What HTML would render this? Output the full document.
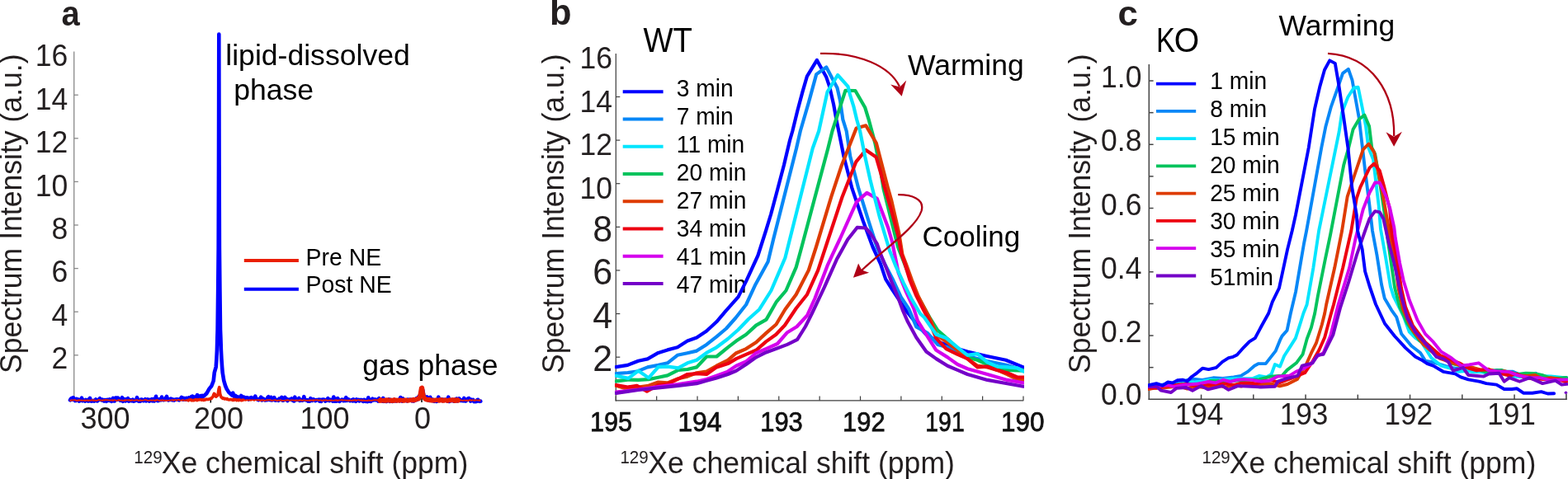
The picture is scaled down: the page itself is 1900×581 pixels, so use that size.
<!DOCTYPE html>
<html><head><meta charset="utf-8"><title>Figure</title>
<style>html,body{margin:0;padding:0;background:#fff;} svg{display:block;} text{font-family:'Liberation Sans', Arial, Helvetica, sans-serif;}</style>
</head><body>
<svg width="1900" height="581" viewBox="0 0 1900 581">
<defs><clipPath id="clipb"><rect x="745" y="0" width="496" height="487"/></clipPath><clipPath id="clipc"><rect x="1391" y="0" width="509" height="486"/></clipPath></defs>
<rect width="1900" height="581" fill="#fff"/>
<text x="74.5" y="30.6" font-size="41" text-anchor="start" fill="#231f20" font-weight="bold" textLength="22.2" lengthAdjust="spacingAndGlyphs" transform="matrix(1 0 0 1.04 0 -1.224)" >a</text>
<line x1="89.7" y1="62.4" x2="89.7" y2="484" stroke="#8a8a8a" stroke-width="1.3"/>
<line x1="89.7" y1="430.79999999999995" x2="94.8" y2="430.79999999999995" stroke="#8a8a8a" stroke-width="1.3"/>
<line x1="89.7" y1="378.2" x2="94.8" y2="378.2" stroke="#8a8a8a" stroke-width="1.3"/>
<line x1="89.7" y1="325.59999999999997" x2="94.8" y2="325.59999999999997" stroke="#8a8a8a" stroke-width="1.3"/>
<line x1="89.7" y1="273.0" x2="94.8" y2="273.0" stroke="#8a8a8a" stroke-width="1.3"/>
<line x1="89.7" y1="220.39999999999998" x2="94.8" y2="220.39999999999998" stroke="#8a8a8a" stroke-width="1.3"/>
<line x1="89.7" y1="167.79999999999995" x2="94.8" y2="167.79999999999995" stroke="#8a8a8a" stroke-width="1.3"/>
<line x1="89.7" y1="115.19999999999999" x2="94.8" y2="115.19999999999999" stroke="#8a8a8a" stroke-width="1.3"/>
<text x="82.2" y="80.2" font-size="35.5" text-anchor="end" fill="#231f20" font-weight="normal" transform="matrix(1 0 0 1.03 0 -2.406)" >16</text>
<text x="82.2" y="133" font-size="35.5" text-anchor="end" fill="#231f20" font-weight="normal" transform="matrix(1 0 0 1.03 0 -3.99)" >14</text>
<text x="82.2" y="185.3" font-size="35.5" text-anchor="end" fill="#231f20" font-weight="normal" transform="matrix(1 0 0 1.03 0 -5.559)" >12</text>
<text x="82.2" y="237.6" font-size="35.5" text-anchor="end" fill="#231f20" font-weight="normal" transform="matrix(1 0 0 1.03 0 -7.128)" >10</text>
<text x="82.2" y="290" font-size="35.5" text-anchor="end" fill="#231f20" font-weight="normal" transform="matrix(1 0 0 1.03 0 -8.7)" >8</text>
<text x="82.2" y="342.5" font-size="35.5" text-anchor="end" fill="#231f20" font-weight="normal" transform="matrix(1 0 0 1.03 0 -10.275)" >6</text>
<text x="82.2" y="395" font-size="35.5" text-anchor="end" fill="#231f20" font-weight="normal" transform="matrix(1 0 0 1.03 0 -11.85)" >4</text>
<text x="82.2" y="447.5" font-size="35.5" text-anchor="end" fill="#231f20" font-weight="normal" transform="matrix(1 0 0 1.03 0 -13.425)" >2</text>
<text x="127.6" y="519.8" font-size="36" text-anchor="middle" fill="#231f20" font-weight="normal" transform="matrix(1 0 0 1.03 0 -15.594)" >300</text>
<text x="265" y="519.8" font-size="36" text-anchor="middle" fill="#231f20" font-weight="normal" transform="matrix(1 0 0 1.03 0 -15.594)" >200</text>
<text x="393.5" y="519.8" font-size="36" text-anchor="middle" fill="#231f20" font-weight="normal" transform="matrix(1 0 0 1.03 0 -15.594)" >100</text>
<text x="512" y="519.8" font-size="36" text-anchor="middle" fill="#231f20" font-weight="normal" transform="matrix(1 0 0 1.03 0 -15.594)" >0</text>
<text x="162.35" y="562.2" font-size="20.5" text-anchor="start" fill="#231f20" font-weight="normal" transform="matrix(1 0 0 1.04 0 -22.488)" >129</text>
<text x="195.75" y="574.0" font-size="35.4" text-anchor="start" fill="#231f20" font-weight="normal" textLength="371.5" lengthAdjust="spacingAndGlyphs" transform="matrix(1 0 0 1.04 0 -22.96)" >Xe chemical shift (ppm)</text>
<text transform="translate(25.5,453) rotate(-90) scale(1,1.04)" x="0" y="0" font-size="35.6" fill="#231f20">Spectrum Intensity (a.u.)</text>
<text x="273.3" y="79.2" font-size="35.6" text-anchor="start" fill="#000" font-weight="normal" >lipid-dissolved</text>
<text x="283.2" y="120.9" font-size="35.6" text-anchor="start" fill="#000" font-weight="normal" >phase</text>
<text x="439.3" y="454.8" font-size="35.6" text-anchor="start" fill="#000" font-weight="normal" >gas phase</text>
<line x1="295.8" y1="315.9" x2="361.9" y2="315.9" stroke="#ea1f00" stroke-width="4"/>
<line x1="295.8" y1="350.7" x2="361.9" y2="350.7" stroke="#0000ff" stroke-width="4"/>
<text x="370.6" y="321.7" font-size="28.4" text-anchor="start" fill="#000" font-weight="normal" transform="matrix(1 0 0 1.03 0 -9.651)" >Pre NE</text>
<text x="370.6" y="355.4" font-size="28.4" text-anchor="start" fill="#000" font-weight="normal" transform="matrix(1 0 0 1.03 0 -10.662)" >Post NE</text>
<line x1="255.3" y1="483" x2="255.3" y2="488.5" stroke="#000" stroke-width="1.5"/>
<line x1="511" y1="483" x2="511" y2="488" stroke="#000" stroke-width="1.5"/>
<polyline points="85.00,485.29 86.00,483.62 87.00,482.94 88.00,484.54 89.00,482.32 90.00,484.67 91.00,486.07 92.00,485.94 93.00,483.85 94.00,485.19 95.00,484.74 96.00,486.55 97.00,485.94 98.00,485.40 99.00,482.70 100.00,486.19 101.00,485.24 102.00,485.60 103.00,486.48 104.00,485.05 105.00,485.78 106.00,486.31 107.00,484.66 108.00,486.37 109.00,482.91 110.00,486.39 111.00,486.68 112.00,486.20 113.00,485.90 114.00,486.57 115.00,485.62 116.00,484.54 117.00,486.07 118.00,486.52 119.00,485.38 120.00,484.43 121.00,483.20 122.00,484.39 123.00,485.38 124.00,484.57 125.00,485.79 126.00,486.48 127.00,485.07 128.00,485.28 129.00,486.83 130.00,484.80 131.00,484.94 132.00,485.86 133.00,484.34 134.00,485.28 135.00,486.80 136.00,485.66 137.00,482.86 138.00,486.34 139.00,486.38 140.00,482.63 141.00,482.56 142.00,484.71 143.00,482.63 144.00,484.54 145.00,484.34 146.00,485.87 147.00,484.92 148.00,482.09 149.00,486.83 150.00,483.81 151.00,485.13 152.00,486.39 153.00,484.29 154.00,485.60 155.00,483.12 156.00,486.75 157.00,486.01 158.00,485.15 159.00,486.19 160.00,486.21 161.00,484.75 162.00,486.72 163.00,486.25 164.00,486.07 165.00,485.48 166.00,482.17 167.00,484.80 168.00,486.60 169.00,486.54 170.00,486.58 171.00,484.66 172.00,484.58 173.00,485.68 174.00,486.24 175.00,485.74 176.00,484.25 177.00,486.38 178.00,485.95 179.00,484.45 180.00,484.84 181.00,486.49 182.00,484.99 183.00,485.82 184.00,484.25 185.00,486.25 186.00,484.27 187.00,486.42 188.00,484.76 189.00,480.83 190.00,485.50 191.00,486.22 192.00,486.04 193.00,484.30 194.00,484.50 195.00,485.24 196.00,481.55 197.00,484.58 198.00,485.16 199.00,484.71 200.00,484.89 201.00,482.58 202.00,480.99 203.00,483.95 204.00,485.36 205.00,484.28 206.00,484.85 207.00,483.64 208.00,483.98 209.00,485.30 210.00,484.71 211.00,485.58 212.00,484.76 213.00,484.45 214.00,484.25 215.00,484.27 216.00,484.79 217.00,485.37 218.00,484.31 219.00,483.25 220.00,481.93 221.00,482.86 222.00,484.64 223.00,482.93 224.00,484.17 225.00,484.67 226.00,482.86 227.00,483.24 228.00,484.68 229.00,482.43 230.00,483.25 231.00,482.31 232.00,481.02 233.00,480.59 234.00,483.07 235.00,481.49 236.00,483.24 237.00,481.32 238.00,481.00 239.00,479.14 240.00,482.94 241.00,481.07 242.00,482.61 243.00,480.25 244.00,481.63 245.00,479.83 246.00,481.09 247.30,480.17 250.30,477.28 253.50,471.65 256.30,468.29 258.70,461.96 259.80,451.87 261.70,445.04 262.40,435.34 262.90,424.81 263.30,409.70 263.60,400.02 264.20,349.79 264.70,300.00 265.00,200.00 265.20,100.00 265.30,41.50 265.40,100.00 265.60,200.00 265.90,300.00 266.40,349.69 267.00,399.73 267.40,409.64 267.90,424.76 268.40,434.85 269.10,444.84 269.70,452.21 271.30,461.83 273.10,468.00 274.70,471.74 277.30,475.88 281.30,479.61 282.30,476.70 283.30,480.59 284.30,480.61 285.30,479.86 286.30,480.91 287.30,482.15 288.30,481.49 289.30,482.90 290.30,482.69 291.30,482.34 292.30,480.00 293.30,481.18 294.30,481.81 295.30,481.50 296.30,483.68 297.30,482.27 298.30,482.42 299.30,482.18 300.30,482.56 301.30,484.51 302.30,482.72 303.30,482.98 304.30,482.27 305.30,483.58 306.30,482.95 307.30,482.52 308.30,482.81 309.30,480.68 310.30,483.32 311.30,484.16 312.30,484.55 313.30,485.18 314.30,483.80 315.30,483.40 316.30,481.64 317.30,485.42 318.30,485.06 319.30,483.56 320.30,484.55 321.30,485.37 322.30,484.84 323.30,485.13 324.30,482.24 325.30,481.28 326.30,484.91 327.30,485.12 328.30,481.78 329.30,485.50 330.30,484.97 331.30,483.78 332.30,482.28 333.30,485.55 334.30,485.60 335.30,484.99 336.30,484.97 337.30,485.74 338.30,483.66 339.30,484.45 340.30,484.60 341.30,481.85 342.30,485.59 343.30,485.62 344.30,485.22 345.30,481.91 346.30,484.43 347.30,483.99 348.30,486.07 349.30,485.12 350.30,484.52 351.30,484.53 352.30,484.36 353.30,483.43 354.30,485.34 355.30,485.86 356.30,486.38 357.30,481.69 358.30,485.24 359.30,484.44 360.30,484.91 361.30,484.10 362.30,483.03 363.30,485.97 364.30,484.88 365.30,485.16 366.30,485.67 367.30,485.26 368.30,481.20 369.30,484.91 370.30,484.82 371.30,485.51 372.30,485.16 373.30,486.50 374.30,485.84 375.30,486.66 376.30,483.20 377.30,485.40 378.30,485.91 379.30,484.36 380.30,484.57 381.30,485.14 382.30,486.17 383.30,484.93 384.30,485.05 385.30,485.29 386.30,484.69 387.30,486.63 388.30,484.86 389.30,486.88 390.30,484.66 391.30,484.53 392.30,484.54 393.30,484.98 394.30,486.62 395.30,485.39 396.30,485.68 397.30,483.17 398.30,484.39 399.30,485.97 400.30,484.90 401.30,484.98 402.30,485.50 403.30,486.55 404.30,481.56 405.30,486.68 406.30,483.64 407.30,486.77 408.30,486.59 409.30,483.22 410.30,485.72 411.30,486.82 412.30,486.06 413.30,485.56 414.30,484.48 415.30,484.99 416.30,486.06 417.30,484.72 418.30,486.04 419.30,482.19 420.30,485.91 421.30,484.98 422.30,484.42 423.30,485.60 424.30,486.08 425.30,485.64 426.30,485.05 427.30,486.24 428.30,484.47 429.30,486.17 430.30,485.08 431.30,486.82 432.30,484.51 433.30,485.51 434.30,484.94 435.30,486.34 436.30,484.96 437.30,485.24 438.30,485.03 439.30,486.41 440.30,486.90 441.30,484.92 442.30,485.52 443.30,486.90 444.30,485.46 445.30,486.97 446.30,482.32 447.30,486.77 448.30,486.34 449.30,486.86 450.30,484.92 451.30,483.62 452.30,485.43 453.30,485.31 454.30,484.45 455.30,485.36 456.30,484.77 457.30,484.99 458.30,486.58 459.30,483.17 460.30,485.42 461.30,484.95 462.30,484.50 463.30,486.56 464.30,482.93 465.30,486.84 466.30,486.39 467.30,485.33 468.30,486.94 469.30,485.13 470.30,485.27 471.30,484.45 472.30,486.83 473.30,484.95 474.30,485.68 475.30,486.92 476.30,485.09 477.30,485.72 478.30,484.91 479.30,486.35 480.30,486.43 481.30,485.27 482.30,485.36 483.30,484.62 484.30,486.36 485.30,482.02 486.30,485.24 487.30,486.68 488.30,483.38 489.30,485.66 490.30,485.51 491.30,485.42 492.30,486.07 493.30,486.50 494.30,484.59 495.30,485.01 496.30,485.18 497.30,484.68 498.30,484.75 499.30,486.34 500.30,484.80 501.30,486.42 502.30,484.29 503.30,485.17 504.30,483.44 505.30,484.85 506.30,482.34 507.30,481.17 508.30,481.39 509.30,477.88 510.30,473.27 511.30,470.50 512.30,473.50 513.30,479.31 514.30,481.16 515.30,482.16 516.30,484.05 517.30,481.43 518.30,485.14 519.30,484.43 520.30,485.87 521.30,481.84 522.30,485.46 523.30,484.34 524.30,485.97 525.30,484.95 526.30,486.73 527.30,485.76 528.30,485.39 529.30,486.93 530.30,484.87 531.30,481.69 532.30,485.49 533.30,485.46 534.30,485.61 535.30,484.46 536.30,486.10 537.30,484.67 538.30,485.41 539.30,484.83 540.30,485.81 541.30,484.75 542.30,486.56 543.30,481.70 544.30,487.01 545.30,484.62 546.30,485.49 547.30,486.10 548.30,484.91 549.30,485.07 550.30,486.70 551.30,484.98 552.30,485.54 553.30,483.53 554.30,486.39 555.30,484.62 556.30,483.39 557.30,484.82 558.30,485.94 559.30,485.31 560.30,486.03 561.30,486.23 562.30,482.98 563.30,485.79 564.30,486.51 565.30,485.72 566.30,484.01 567.30,483.31 568.30,483.14 569.30,484.74 570.30,486.55 571.30,484.67 572.30,485.51 573.30,484.89 574.30,487.12 575.30,486.65 576.30,487.09 577.30,487.02 578.30,484.97 579.30,484.79 580.30,486.50 581.30,486.87 582.30,486.66" fill="none" stroke="#0000ff" stroke-width="4.6" stroke-linejoin="round" stroke-linecap="round" />
<polyline points="85.00,485.59 85.80,486.10 86.60,485.24 87.40,485.31 88.20,485.60 89.00,485.37 89.80,485.04 90.60,485.21 91.40,485.18 92.20,486.11 93.00,485.81 93.80,486.06 94.60,485.19 95.40,485.93 96.20,485.13 97.00,485.63 97.80,485.75 98.60,485.42 99.40,486.04 100.20,485.66 101.00,485.69 101.80,486.05 102.60,485.11 103.40,486.18 104.20,485.74 105.00,485.46 105.80,485.95 106.60,485.31 107.40,486.18 108.20,485.68 109.00,485.42 109.80,485.91 110.60,485.52 111.40,485.20 112.20,485.88 113.00,485.05 113.80,485.97 114.60,485.29 115.40,485.75 116.20,486.17 117.00,485.69 117.80,485.78 118.60,485.36 119.40,484.99 120.20,485.03 121.00,485.17 121.80,485.73 122.60,485.50 123.40,485.60 124.20,486.06 125.00,485.14 125.80,485.26 126.60,485.77 127.40,485.01 128.20,484.99 129.00,485.41 129.80,485.11 130.60,485.41 131.40,485.25 132.20,485.68 133.00,485.69 133.80,485.23 134.60,485.73 135.40,485.55 136.20,485.14 137.00,486.11 137.80,485.28 138.60,485.16 139.40,485.10 140.20,485.75 141.00,486.03 141.80,485.92 142.60,485.46 143.40,485.30 144.20,484.99 145.00,485.75 145.80,485.66 146.60,485.40 147.40,485.75 148.20,485.51 149.00,486.10 149.80,485.86 150.60,485.28 151.40,486.06 152.20,485.03 153.00,485.62 153.80,485.46 154.60,485.26 155.40,485.05 156.20,485.91 157.00,484.99 157.80,485.64 158.60,486.10 159.40,485.15 160.20,485.21 161.00,485.70 161.80,485.58 162.60,485.74 163.40,485.95 164.20,485.18 165.00,485.34 165.80,485.33 166.60,485.03 167.40,486.04 168.20,485.91 169.00,485.83 169.80,484.98 170.60,485.98 171.40,485.86 172.20,485.53 173.00,485.86 173.80,485.51 174.60,485.24 175.40,485.09 176.20,485.24 177.00,485.01 177.80,485.37 178.60,485.86 179.40,485.80 180.20,485.98 181.00,485.81 181.80,485.28 182.60,485.62 183.40,485.48 184.20,485.90 185.00,485.58 185.80,485.27 186.60,485.73 187.40,486.11 188.20,485.21 189.00,486.01 189.80,484.97 190.60,485.26 191.40,485.23 192.20,485.84 193.00,486.08 193.80,485.84 194.60,485.34 195.40,486.00 196.20,485.34 197.00,485.23 197.80,486.03 198.60,485.69 199.40,485.77 200.20,485.73 201.00,486.11 201.80,485.49 202.60,485.94 203.40,485.77 204.20,485.96 205.00,485.45 205.80,485.79 206.60,485.60 207.40,485.29 208.20,485.17 209.00,485.66 209.80,485.00 210.60,486.00 211.40,485.08 212.20,484.93 213.00,485.03 213.80,486.01 214.60,485.31 215.40,485.06 216.20,484.92 217.00,484.93 217.80,485.71 218.60,485.64 219.40,485.71 220.20,485.75 221.00,484.94 221.80,485.57 222.60,485.29 223.40,485.83 224.20,485.82 225.00,485.90 225.80,484.91 226.60,485.86 227.40,485.91 228.20,485.94 229.00,484.93 229.80,485.03 230.60,484.91 231.40,484.81 232.20,485.78 233.00,485.72 233.80,485.50 234.60,485.71 235.40,485.46 236.20,485.04 237.00,484.79 237.80,484.77 238.60,485.55 239.40,484.86 240.20,484.98 241.00,485.08 241.80,484.57 242.60,484.82 243.40,484.82 244.20,485.30 245.00,484.85 245.80,484.75 246.60,485.47 247.40,484.87 248.20,485.22 249.00,484.87 249.80,484.09 250.60,484.46 251.40,484.39 252.20,484.67 253.00,484.01 253.80,484.26 254.60,483.84 255.40,483.15 256.20,483.50 257.00,481.92 257.80,481.72 258.60,479.24 259.40,477.38 260.20,477.99 261.00,480.10 261.80,481.21 262.60,480.18 263.40,480.12 264.20,477.91 265.00,472.16 265.80,469.61 266.60,477.19 267.40,480.23 268.20,482.13 269.00,482.12 269.80,483.37 270.60,482.89 271.40,483.06 272.20,483.85 273.00,483.79 273.80,483.49 274.60,484.26 275.40,483.72 276.20,484.69 277.00,484.68 277.80,484.88 278.60,484.77 279.40,484.52 280.20,484.64 281.00,484.69 281.80,485.34 282.60,484.43 283.40,485.43 284.20,484.44 285.00,484.69 285.80,484.80 286.60,485.59 287.40,485.14 288.20,485.02 289.00,485.65 289.80,484.90 290.60,485.19 291.40,485.29 292.20,485.58 293.00,485.59 293.80,485.48 294.60,485.14 295.40,485.12 296.20,484.93 297.00,485.77 297.80,485.56 298.60,485.67 299.40,484.99 300.20,485.32 301.00,485.73 301.80,485.51 302.60,484.97 303.40,485.38 304.20,485.89 305.00,485.12 305.80,485.07 306.60,485.21 307.40,485.70 308.20,485.87 309.00,485.05 309.80,485.06 310.60,485.17 311.40,485.27 312.20,485.51 313.00,485.08 313.80,485.28 314.60,485.12 315.40,486.07 316.20,485.77 317.00,485.02 317.80,486.06 318.60,485.03 319.40,485.37 320.20,486.09 321.00,485.87 321.80,485.80 322.60,485.44 323.40,485.16 324.20,485.69 325.00,485.05 325.80,485.17 326.60,485.39 327.40,484.97 328.20,485.41 329.00,485.88 329.80,485.77 330.60,485.54 331.40,485.70 332.20,485.50 333.00,485.11 333.80,485.67 334.60,485.43 335.40,485.83 336.20,486.04 337.00,485.46 337.80,485.64 338.60,485.85 339.40,485.46 340.20,485.23 341.00,485.82 341.80,486.01 342.60,485.88 343.40,485.79 344.20,485.98 345.00,485.77 345.80,485.73 346.60,485.50 347.40,485.33 348.20,485.71 349.00,485.08 349.80,485.46 350.60,485.90 351.40,485.82 352.20,485.72 353.00,485.26 353.80,485.47 354.60,485.51 355.40,485.71 356.20,485.46 357.00,485.78 357.80,486.08 358.60,485.19 359.40,485.75 360.20,485.90 361.00,485.44 361.80,485.56 362.60,486.14 363.40,485.02 364.20,485.62 365.00,485.16 365.80,485.91 366.60,486.10 367.40,485.60 368.20,485.09 369.00,485.66 369.80,485.62 370.60,485.83 371.40,485.59 372.20,485.74 373.00,485.97 373.80,485.60 374.60,485.47 375.40,486.11 376.20,485.23 377.00,485.80 377.80,485.45 378.60,485.89 379.40,485.12 380.20,486.16 381.00,485.40 381.80,485.05 382.60,485.31 383.40,485.46 384.20,484.99 385.00,485.48 385.80,485.48 386.60,485.82 387.40,485.40 388.20,485.30 389.00,485.25 389.80,485.87 390.60,486.11 391.40,485.61 392.20,485.24 393.00,485.94 393.80,485.45 394.60,485.24 395.40,485.14 396.20,485.91 397.00,485.95 397.80,485.74 398.60,485.54 399.40,485.66 400.20,485.25 401.00,486.14 401.80,485.41 402.60,485.75 403.40,485.97 404.20,485.96 405.00,485.54 405.80,485.34 406.60,485.64 407.40,485.13 408.20,485.98 409.00,485.41 409.80,486.00 410.60,485.30 411.40,485.43 412.20,485.29 413.00,485.49 413.80,485.21 414.60,484.99 415.40,485.85 416.20,485.32 417.00,485.28 417.80,485.35 418.60,485.56 419.40,485.50 420.20,485.75 421.00,485.78 421.80,485.42 422.60,486.10 423.40,486.01 424.20,485.05 425.00,485.98 425.80,486.07 426.60,485.93 427.40,485.15 428.20,485.98 429.00,485.74 429.80,485.00 430.60,485.00 431.40,486.13 432.20,485.77 433.00,485.28 433.80,485.11 434.60,485.16 435.40,485.26 436.20,485.92 437.00,485.40 437.80,485.17 438.60,486.07 439.40,485.93 440.20,485.19 441.00,486.05 441.80,485.71 442.60,485.92 443.40,485.79 444.20,486.06 445.00,485.93 445.80,485.99 446.60,485.22 447.40,485.81 448.20,485.62 449.00,485.87 449.80,485.51 450.60,486.04 451.40,485.65 452.20,485.30 453.00,485.26 453.80,485.15 454.60,485.57 455.40,485.05 456.20,485.54 457.00,485.15 457.80,485.57 458.60,485.58 459.40,485.63 460.20,486.01 461.00,484.99 461.80,485.99 462.60,485.54 463.40,485.65 464.20,485.77 465.00,485.98 465.80,485.42 466.60,485.48 467.40,486.13 468.20,485.06 469.00,485.74 469.80,485.73 470.60,485.01 471.40,485.70 472.20,485.79 473.00,486.09 473.80,485.36 474.60,486.14 475.40,485.58 476.20,485.54 477.00,486.04 477.80,485.00 478.60,485.82 479.40,485.71 480.20,485.36 481.00,485.99 481.80,485.39 482.60,485.52 483.40,485.58 484.20,485.87 485.00,485.19 485.80,485.46 486.60,485.44 487.40,485.59 488.20,485.92 489.00,485.27 489.80,485.91 490.60,485.39 491.40,485.50 492.20,485.22 493.00,485.49 493.80,486.04 494.60,485.64 495.40,485.79 496.20,485.22 497.00,485.19 497.80,485.14 498.60,485.46 499.40,485.49 500.20,485.62 501.00,484.68 501.80,485.44 502.60,485.55 503.40,485.03 504.20,484.29 505.00,484.39 505.80,483.74 506.60,483.51 507.40,483.66 508.20,482.05 509.00,479.85 509.80,475.88 510.60,470.68 511.40,470.33 512.20,475.67 513.00,479.81 513.80,482.15 514.60,483.27 515.40,484.09 516.20,483.98 517.00,484.83 517.80,484.78 518.60,485.29 519.40,484.61 520.20,484.79 521.00,484.68 521.80,485.61 522.60,485.82 523.40,485.54 524.20,485.23 525.00,485.80 525.80,485.77 526.60,485.52 527.40,485.17 528.20,485.23 529.00,485.39 529.80,485.27 530.60,485.42 531.40,485.68 532.20,486.03 533.00,484.99 533.80,485.61 534.60,484.98 535.40,485.08 536.20,485.91 537.00,485.63 537.80,486.05 538.60,485.48 539.40,484.97 540.20,485.42 541.00,485.67 541.80,486.08 542.60,486.14 543.40,485.53 544.20,485.46 545.00,485.09 545.80,485.74 546.60,485.22 547.40,485.15 548.20,484.99 549.00,484.98 549.80,485.79 550.60,485.12 551.40,486.13 552.20,485.08 553.00,486.02 553.80,485.13 554.60,485.00 555.40,485.84 556.20,485.27 557.00,485.86 557.80,485.20 558.60,485.04 559.40,485.91 560.20,485.84 561.00,486.01 561.80,485.86 562.60,485.08 563.40,485.74 564.20,485.83 565.00,485.54 565.80,486.10 566.60,485.29 567.40,486.14 568.20,485.85 569.00,485.00 569.80,485.00 570.60,485.77 571.40,485.97 572.20,485.08 573.00,485.36 573.80,485.86 574.60,485.19 575.40,486.02 576.20,485.57 577.00,485.06 577.80,485.43 578.60,485.68 579.40,485.52 580.20,485.80 581.00,485.16 581.80,485.95" fill="none" stroke="#ea1f00" stroke-width="1.8" stroke-linejoin="round" stroke-linecap="round" />
<polyline points="228.20,485.94 229.00,484.93 229.80,485.03 230.60,484.91 231.40,484.81 232.20,485.78 233.00,485.72 233.80,485.50 234.60,485.71 235.40,485.46 236.20,485.04 237.00,484.79 237.80,484.77 238.60,485.55 239.40,484.86 240.20,484.98 241.00,485.08 241.80,484.57 242.60,484.82 243.40,484.82 244.20,485.30 245.00,484.85 245.80,484.75 246.60,485.47 247.40,484.87 248.20,485.22 249.00,484.87 249.80,484.09 250.60,484.46 251.40,484.39 252.20,484.67 253.00,484.01 253.80,484.26 254.60,483.84 255.40,483.15 256.20,483.50 257.00,481.92 257.80,481.72 258.60,479.24 259.40,477.38 260.20,477.99 261.00,480.10 261.80,481.21 262.60,480.18 263.40,480.12 264.20,477.91 265.00,472.16 265.80,469.61 266.60,477.19 267.40,480.23 268.20,482.13 269.00,482.12 269.80,483.37 270.60,482.89 271.40,483.06 272.20,483.85 273.00,483.79 273.80,483.49 274.60,484.26 275.40,483.72 276.20,484.69 277.00,484.68 277.80,484.88 278.60,484.77 279.40,484.52 280.20,484.64 281.00,484.69 281.80,485.34 282.60,484.43 283.40,485.43 284.20,484.44 285.00,484.69 285.80,484.80 286.60,485.59 287.40,485.14 288.20,485.02 289.00,485.65 289.80,484.90 290.60,485.19 291.40,485.29 292.20,485.58 293.00,485.59 293.80,485.48 294.60,485.14" fill="none" stroke="#ea1f00" stroke-width="3.6" stroke-linejoin="round" stroke-linecap="round" />
<polyline points="460.20,486.01 461.00,484.99 461.80,485.99 462.60,485.54 463.40,485.65 464.20,485.77 465.00,485.98 465.80,485.42 466.60,485.48 467.40,486.13 468.20,485.06 469.00,485.74 469.80,485.73 470.60,485.01 471.40,485.70 472.20,485.79 473.00,486.09 473.80,485.36 474.60,486.14 475.40,485.58 476.20,485.54 477.00,486.04 477.80,485.00 478.60,485.82 479.40,485.71 480.20,485.36 481.00,485.99 481.80,485.39 482.60,485.52 483.40,485.58 484.20,485.87 485.00,485.19 485.80,485.46 486.60,485.44 487.40,485.59 488.20,485.92 489.00,485.27 489.80,485.91 490.60,485.39 491.40,485.50 492.20,485.22 493.00,485.49 493.80,486.04 494.60,485.64 495.40,485.79 496.20,485.22 497.00,485.19 497.80,485.14 498.60,485.46 499.40,485.49 500.20,485.62 501.00,484.68 501.80,485.44 502.60,485.55 503.40,485.03 504.20,484.29 505.00,484.39 505.80,483.74 506.60,483.51 507.40,483.66 508.20,482.05 509.00,479.85 509.80,475.88 510.60,470.68 511.40,470.33 512.20,475.67 513.00,479.81 513.80,482.15 514.60,483.27 515.40,484.09 516.20,483.98 517.00,484.83 517.80,484.78 518.60,485.29 519.40,484.61 520.20,484.79 521.00,484.68 521.80,485.61 522.60,485.82 523.40,485.54 524.20,485.23 525.00,485.80 525.80,485.77 526.60,485.52 527.40,485.17 528.20,485.23 529.00,485.39 529.80,485.27 530.60,485.42 531.40,485.68 532.20,486.03 533.00,484.99 533.80,485.61 534.60,484.98 535.40,485.08 536.20,485.91 537.00,485.63 537.80,486.05 538.60,485.48 539.40,484.97 540.20,485.42 541.00,485.67 541.80,486.08 542.60,486.14 543.40,485.53 544.20,485.46 545.00,485.09 545.80,485.74 546.60,485.22 547.40,485.15 548.20,484.99 549.00,484.98 549.80,485.79 550.60,485.12 551.40,486.13 552.20,485.08 553.00,486.02 553.80,485.13 554.60,485.00 555.40,485.84" fill="none" stroke="#ea1f00" stroke-width="5.5" stroke-linejoin="round" stroke-linecap="round" />
<text x="665.9" y="30.1" font-size="43.5" text-anchor="start" fill="#231f20" font-weight="bold" >b</text>
<text x="779.5" y="62.7" font-size="43.4" text-anchor="start" fill="#000" font-weight="normal" textLength="59.5" lengthAdjust="spacingAndGlyphs" >WT</text>
<line x1="746.3" y1="64.9" x2="746.3" y2="486.4" stroke="#3c3c3c" stroke-width="1.2"/>
<line x1="745.7" y1="485.8" x2="1240.3" y2="485.8" stroke="#3c3c3c" stroke-width="1.2"/>
<line x1="746.3" y1="433.18" x2="751.3" y2="433.18" stroke="#3c3c3c" stroke-width="1.2"/>
<line x1="746.3" y1="380.56" x2="751.3" y2="380.56" stroke="#3c3c3c" stroke-width="1.2"/>
<line x1="746.3" y1="327.94000000000005" x2="751.3" y2="327.94000000000005" stroke="#3c3c3c" stroke-width="1.2"/>
<line x1="746.3" y1="275.32000000000005" x2="751.3" y2="275.32000000000005" stroke="#3c3c3c" stroke-width="1.2"/>
<line x1="746.3" y1="222.70000000000005" x2="751.3" y2="222.70000000000005" stroke="#3c3c3c" stroke-width="1.2"/>
<line x1="746.3" y1="170.08000000000004" x2="751.3" y2="170.08000000000004" stroke="#3c3c3c" stroke-width="1.2"/>
<line x1="746.3" y1="117.46000000000004" x2="751.3" y2="117.46000000000004" stroke="#3c3c3c" stroke-width="1.2"/>
<line x1="746.3" y1="485.8" x2="746.3" y2="480.5" stroke="#3c3c3c" stroke-width="1.2"/>
<line x1="795.67" y1="485.8" x2="795.67" y2="480.5" stroke="#3c3c3c" stroke-width="1.2"/>
<line x1="845.04" y1="485.8" x2="845.04" y2="480.5" stroke="#3c3c3c" stroke-width="1.2"/>
<line x1="894.41" y1="485.8" x2="894.41" y2="480.5" stroke="#3c3c3c" stroke-width="1.2"/>
<line x1="943.78" y1="485.8" x2="943.78" y2="480.5" stroke="#3c3c3c" stroke-width="1.2"/>
<line x1="993.15" y1="485.8" x2="993.15" y2="480.5" stroke="#3c3c3c" stroke-width="1.2"/>
<line x1="1042.52" y1="485.8" x2="1042.52" y2="480.5" stroke="#3c3c3c" stroke-width="1.2"/>
<line x1="1091.8899999999999" y1="485.8" x2="1091.8899999999999" y2="480.5" stroke="#3c3c3c" stroke-width="1.2"/>
<line x1="1141.26" y1="485.8" x2="1141.26" y2="480.5" stroke="#3c3c3c" stroke-width="1.2"/>
<line x1="1190.6299999999999" y1="485.8" x2="1190.6299999999999" y2="480.5" stroke="#3c3c3c" stroke-width="1.2"/>
<line x1="1240.0" y1="485.8" x2="1240.0" y2="480.5" stroke="#3c3c3c" stroke-width="1.2"/>
<text x="742" y="83.04" font-size="35.5" text-anchor="end" fill="#231f20" font-weight="normal" transform="matrix(1 0 0 1.03 0 -2.491)" >16</text>
<text x="742" y="135.66" font-size="35.5" text-anchor="end" fill="#231f20" font-weight="normal" transform="matrix(1 0 0 1.03 0 -4.07)" >14</text>
<text x="742" y="188.28" font-size="35.5" text-anchor="end" fill="#231f20" font-weight="normal" transform="matrix(1 0 0 1.03 0 -5.648)" >12</text>
<text x="742" y="240.9" font-size="35.5" text-anchor="end" fill="#231f20" font-weight="normal" transform="matrix(1 0 0 1.03 0 -7.227)" >10</text>
<text x="742.2" y="292.62" font-size="43" text-anchor="end" fill="#231f20" font-weight="normal" transform="matrix(1 0 0 1.03 0 -8.779)" >8</text>
<text x="742.2" y="345.24" font-size="43" text-anchor="end" fill="#231f20" font-weight="normal" transform="matrix(1 0 0 1.03 0 -10.357)" >6</text>
<text x="742.2" y="397.86" font-size="43" text-anchor="end" fill="#231f20" font-weight="normal" transform="matrix(1 0 0 1.03 0 -11.936)" >4</text>
<text x="742.2" y="450.48" font-size="43" text-anchor="end" fill="#231f20" font-weight="normal" transform="matrix(1 0 0 1.03 0 -13.514)" >2</text>
<text x="740.55" y="522.6" font-size="33.3" text-anchor="middle" fill="#111" font-weight="normal" textLength="51.1" lengthAdjust="spacingAndGlyphs" stroke="#111" stroke-width="0.75">195</text>
<text x="848.0" y="522.6" font-size="33.3" text-anchor="middle" fill="#111" font-weight="normal" textLength="53.2" lengthAdjust="spacingAndGlyphs" stroke="#111" stroke-width="0.75">194</text>
<text x="947.0" y="522.6" font-size="33.3" text-anchor="middle" fill="#111" font-weight="normal" textLength="51.6" lengthAdjust="spacingAndGlyphs" stroke="#111" stroke-width="0.75">193</text>
<text x="1046.9" y="522.6" font-size="33.3" text-anchor="middle" fill="#111" font-weight="normal" textLength="51.6" lengthAdjust="spacingAndGlyphs" stroke="#111" stroke-width="0.75">192</text>
<text x="1145.0" y="522.6" font-size="33.3" text-anchor="middle" fill="#111" font-weight="normal" textLength="47.4" lengthAdjust="spacingAndGlyphs" stroke="#111" stroke-width="0.75">191</text>
<text x="1239.15" y="522.6" font-size="33.3" text-anchor="middle" fill="#111" font-weight="normal" textLength="52.5" lengthAdjust="spacingAndGlyphs" stroke="#111" stroke-width="0.75">190</text>
<text x="751.45" y="562.2" font-size="20.5" text-anchor="start" fill="#231f20" font-weight="normal" transform="matrix(1 0 0 1.04 0 -22.488)" >129</text>
<text x="785.35" y="574.0" font-size="35.4" text-anchor="start" fill="#231f20" font-weight="normal" textLength="371.5" lengthAdjust="spacingAndGlyphs" transform="matrix(1 0 0 1.04 0 -22.96)" >Xe chemical shift (ppm)</text>
<text transform="translate(682.5,453) rotate(-90) scale(1,1.04)" x="0" y="0" font-size="35.6" fill="#231f20">Spectrum Intensity (a.u.)</text>
<line x1="754.7" y1="111.2" x2="803.6" y2="111.2" stroke="#0000ff" stroke-width="4.0"/>
<text x="819.8" y="117.4" font-size="28.2" text-anchor="start" fill="#000" font-weight="normal" transform="matrix(1 0 0 1.03 0 -3.522)" >3 min</text>
<line x1="754.7" y1="144.46" x2="803.6" y2="144.46" stroke="#0787f7" stroke-width="4.0"/>
<text x="819.8" y="151.38" font-size="28.2" text-anchor="start" fill="#000" font-weight="normal" transform="matrix(1 0 0 1.03 0 -4.541)" >7 min</text>
<line x1="754.7" y1="177.72" x2="803.6" y2="177.72" stroke="#04e5fe" stroke-width="4.0"/>
<text x="819.8" y="185.36" font-size="28.2" text-anchor="start" fill="#000" font-weight="normal" transform="matrix(1 0 0 1.03 0 -5.561)" >11 min</text>
<line x1="754.7" y1="210.98000000000002" x2="803.6" y2="210.98000000000002" stroke="#02c35c" stroke-width="4.0"/>
<text x="819.8" y="219.34" font-size="28.2" text-anchor="start" fill="#000" font-weight="normal" transform="matrix(1 0 0 1.03 0 -6.58)" >20 min</text>
<line x1="754.7" y1="244.24" x2="803.6" y2="244.24" stroke="#de3b02" stroke-width="4.0"/>
<text x="819.8" y="253.32" font-size="28.2" text-anchor="start" fill="#000" font-weight="normal" transform="matrix(1 0 0 1.03 0 -7.6)" >27 min</text>
<line x1="754.7" y1="277.5" x2="803.6" y2="277.5" stroke="#ed0011" stroke-width="4.0"/>
<text x="819.8" y="287.3" font-size="28.2" text-anchor="start" fill="#000" font-weight="normal" transform="matrix(1 0 0 1.03 0 -8.619)" >34 min</text>
<line x1="754.7" y1="310.76" x2="803.6" y2="310.76" stroke="#d502ed" stroke-width="4.0"/>
<text x="819.8" y="321.28" font-size="28.2" text-anchor="start" fill="#000" font-weight="normal" transform="matrix(1 0 0 1.03 0 -9.638)" >41 min</text>
<line x1="754.7" y1="344.02" x2="803.6" y2="344.02" stroke="#7400c8" stroke-width="4.0"/>
<text x="819.8" y="355.26" font-size="28.2" text-anchor="start" fill="#000" font-weight="normal" transform="matrix(1 0 0 1.03 0 -10.658)" >47 min</text>
<text x="1100" y="91" font-size="35.5" text-anchor="start" fill="#000" font-weight="normal" >Warming</text>
<text x="1117.5" y="298.7" font-size="35" text-anchor="start" fill="#000" font-weight="normal" >Cooling</text>
<text x="1354.4" y="30.9" font-size="41" text-anchor="start" fill="#231f20" font-weight="bold" textLength="24.4" lengthAdjust="spacingAndGlyphs" transform="matrix(1 0 0 1.035 0 -1.081)" >c</text>
<text x="1401.1" y="62.6" font-size="43" text-anchor="start" fill="#000" font-weight="normal" textLength="23.0" lengthAdjust="spacingAndGlyphs" >K</text>
<text x="1422.7" y="62.6" font-size="43" text-anchor="start" fill="#000" font-weight="normal" textLength="30.4" lengthAdjust="spacingAndGlyphs" >O</text>
<line x1="1392.3" y1="78" x2="1392.3" y2="485" stroke="#444444" stroke-width="1.5"/>
<line x1="1391.6" y1="484.3" x2="1898.6" y2="484.3" stroke="#444444" stroke-width="1.6"/>
<line x1="1897.9" y1="485" x2="1897.9" y2="477.5" stroke="#444444" stroke-width="1.6"/>
<line x1="1392.3" y1="445.67" x2="1397.6" y2="445.67" stroke="#444444" stroke-width="1.5"/>
<line x1="1392.3" y1="407.04" x2="1397.6" y2="407.04" stroke="#444444" stroke-width="1.5"/>
<line x1="1392.3" y1="368.41" x2="1397.6" y2="368.41" stroke="#444444" stroke-width="1.5"/>
<line x1="1392.3" y1="329.78" x2="1397.6" y2="329.78" stroke="#444444" stroke-width="1.5"/>
<line x1="1392.3" y1="291.15" x2="1397.6" y2="291.15" stroke="#444444" stroke-width="1.5"/>
<line x1="1392.3" y1="252.52" x2="1397.6" y2="252.52" stroke="#444444" stroke-width="1.5"/>
<line x1="1392.3" y1="213.89000000000004" x2="1397.6" y2="213.89000000000004" stroke="#444444" stroke-width="1.5"/>
<line x1="1392.3" y1="175.26" x2="1397.6" y2="175.26" stroke="#444444" stroke-width="1.5"/>
<line x1="1392.3" y1="136.63" x2="1397.6" y2="136.63" stroke="#444444" stroke-width="1.5"/>
<line x1="1392.3" y1="98.0" x2="1397.6" y2="98.0" stroke="#444444" stroke-width="1.5"/>
<line x1="1455.55" y1="484.3" x2="1455.55" y2="478.6" stroke="#444444" stroke-width="1.5"/>
<line x1="1518.8" y1="484.3" x2="1518.8" y2="478.6" stroke="#444444" stroke-width="1.5"/>
<line x1="1582.05" y1="484.3" x2="1582.05" y2="478.6" stroke="#444444" stroke-width="1.5"/>
<line x1="1645.3" y1="484.3" x2="1645.3" y2="478.6" stroke="#444444" stroke-width="1.5"/>
<line x1="1708.55" y1="484.3" x2="1708.55" y2="478.6" stroke="#444444" stroke-width="1.5"/>
<line x1="1771.8" y1="484.3" x2="1771.8" y2="478.6" stroke="#444444" stroke-width="1.5"/>
<line x1="1835.05" y1="484.3" x2="1835.05" y2="478.6" stroke="#444444" stroke-width="1.5"/>
<text x="1383.4" y="106.0" font-size="35.5" text-anchor="end" fill="#231f20" font-weight="normal" transform="matrix(1 0 0 1.03 0 -3.18)" >1.0</text>
<text x="1383.4" y="183.26" font-size="35.5" text-anchor="end" fill="#231f20" font-weight="normal" transform="matrix(1 0 0 1.03 0 -5.498)" >0.8</text>
<text x="1383.4" y="260.52" font-size="35.5" text-anchor="end" fill="#231f20" font-weight="normal" transform="matrix(1 0 0 1.03 0 -7.816)" >0.6</text>
<text x="1383.4" y="337.78" font-size="35.5" text-anchor="end" fill="#231f20" font-weight="normal" transform="matrix(1 0 0 1.03 0 -10.133)" >0.4</text>
<text x="1383.4" y="415.04" font-size="35.5" text-anchor="end" fill="#231f20" font-weight="normal" transform="matrix(1 0 0 1.03 0 -12.451)" >0.2</text>
<text x="1383.4" y="490.7" font-size="35.5" text-anchor="end" fill="#231f20" font-weight="normal" transform="matrix(1 0 0 1.03 0 -14.721)" >0.0</text>
<text x="1453.1" y="515.0" font-size="35.2" text-anchor="middle" fill="#231f20" font-weight="normal" transform="matrix(1 0 0 1.03 0 -15.45)" >194</text>
<text x="1580.05" y="515.0" font-size="35.2" text-anchor="middle" fill="#231f20" font-weight="normal" transform="matrix(1 0 0 1.03 0 -15.45)" >193</text>
<text x="1706.75" y="515.0" font-size="35.2" text-anchor="middle" fill="#231f20" font-weight="normal" transform="matrix(1 0 0 1.03 0 -15.45)" >192</text>
<text x="1831.45" y="515.0" font-size="35.2" text-anchor="middle" fill="#231f20" font-weight="normal" transform="matrix(1 0 0 1.03 0 -15.45)" >191</text>
<text x="1456.55" y="562.2" font-size="20.5" text-anchor="start" fill="#231f20" font-weight="normal" transform="matrix(1 0 0 1.04 0 -22.488)" >129</text>
<text x="1489.75" y="574.0" font-size="35.4" text-anchor="start" fill="#231f20" font-weight="normal" textLength="371.5" lengthAdjust="spacingAndGlyphs" transform="matrix(1 0 0 1.04 0 -22.96)" >Xe chemical shift (ppm)</text>
<text transform="translate(1321,453) rotate(-90) scale(1,1.04)" x="0" y="0" font-size="35.6" fill="#231f20">Spectrum Intensity (a.u.)</text>
<line x1="1401" y1="101.6" x2="1449.2" y2="101.6" stroke="#0000ff" stroke-width="3.8"/>
<text x="1466.2" y="108.3" font-size="28.2" text-anchor="start" fill="#000" font-weight="normal" transform="matrix(1 0 0 1.03 0 -3.249)" >1 min</text>
<line x1="1401" y1="134.87" x2="1449.2" y2="134.87" stroke="#0787f7" stroke-width="3.8"/>
<text x="1466.2" y="142.26" font-size="28.2" text-anchor="start" fill="#000" font-weight="normal" transform="matrix(1 0 0 1.03 0 -4.268)" >8 min</text>
<line x1="1401" y1="168.14" x2="1449.2" y2="168.14" stroke="#04e5fe" stroke-width="3.8"/>
<text x="1466.2" y="176.22" font-size="28.2" text-anchor="start" fill="#000" font-weight="normal" transform="matrix(1 0 0 1.03 0 -5.287)" >15 min</text>
<line x1="1401" y1="201.41" x2="1449.2" y2="201.41" stroke="#02c35c" stroke-width="3.8"/>
<text x="1466.2" y="210.18" font-size="28.2" text-anchor="start" fill="#000" font-weight="normal" transform="matrix(1 0 0 1.03 0 -6.305)" >20 min</text>
<line x1="1401" y1="234.68" x2="1449.2" y2="234.68" stroke="#de3b02" stroke-width="3.8"/>
<text x="1466.2" y="244.14" font-size="28.2" text-anchor="start" fill="#000" font-weight="normal" transform="matrix(1 0 0 1.03 0 -7.324)" >25 min</text>
<line x1="1401" y1="267.95000000000005" x2="1449.2" y2="267.95000000000005" stroke="#ed0011" stroke-width="3.8"/>
<text x="1466.2" y="278.1" font-size="28.2" text-anchor="start" fill="#000" font-weight="normal" transform="matrix(1 0 0 1.03 0 -8.343)" >30 min</text>
<line x1="1401" y1="301.22" x2="1449.2" y2="301.22" stroke="#d502ed" stroke-width="3.8"/>
<text x="1466.2" y="312.06" font-size="28.2" text-anchor="start" fill="#000" font-weight="normal" transform="matrix(1 0 0 1.03 0 -9.362)" >35 min</text>
<line x1="1401" y1="334.49" x2="1449.2" y2="334.49" stroke="#7400c8" stroke-width="3.8"/>
<text x="1466.2" y="346.02" font-size="28.2" text-anchor="start" fill="#000" font-weight="normal" transform="matrix(1 0 0 1.03 0 -10.381)" >51min</text>
<text x="1549.5" y="42.6" font-size="35.5" text-anchor="start" fill="#000" font-weight="normal" >Warming</text>
<g clip-path="url(#clipb)">
<polyline points="746.50,445.10 760.60,442.90 773.60,437.70 784.70,435.40 797.70,427.90 808.90,424.40 820.90,421.30 833.00,413.60 844.20,409.60 856.20,401.50 868.30,390.30 879.50,377.10 894.60,360.10 904.10,341.10 918.40,310.00 928.00,280.00 934.10,260.00 942.10,230.00 950.00,200.00 957.10,170.00 960.30,159.00 966.40,134.00 972.40,111.60 977.90,92.70 989.90,72.90 1001.30,93.60 1005.10,104.80 1010.20,127.10 1013.40,144.80 1016.30,159.00 1022.40,189.50 1032.50,228.70 1045.80,268.00 1057.70,300.00 1067.00,320.10 1073.20,338.70 1081.00,351.10 1090.30,365.10 1099.60,379.00 1110.90,393.00 1122.40,405.80 1136.20,414.40 1160.30,423.10 1172.30,426.50 1194.70,431.70 1218.80,436.80 1240.00,445.40" fill="none" stroke="#0000ff" stroke-width="4.2" stroke-linejoin="round" stroke-linecap="round" stroke-linejoin="miter" stroke-miterlimit="3"/>
<polyline points="746.50,453.20 760.60,452.00 771.80,450.60 784.70,445.40 797.70,442.90 808.90,440.30 820.90,430.80 833.00,428.20 844.20,425.60 856.20,417.90 868.30,408.40 880.00,398.50 891.50,385.50 904.10,369.50 915.50,344.90 930.60,317.50 937.20,290.00 965.00,180.00 969.80,159.00 980.10,123.70 989.20,90.10 1001.30,81.50 1014.50,106.50 1018.00,122.00 1021.30,144.80 1025.70,159.00 1030.20,189.50 1040.30,228.70 1052.00,266.50 1062.80,300.50 1072.00,320.00 1082.50,340.30 1091.80,360.40 1101.10,374.30 1110.30,396.40 1124.10,404.10 1136.20,417.90 1148.20,421.30 1160.30,428.20 1172.30,432.00 1196.40,438.00 1220.50,443.00 1240.00,448.90" fill="none" stroke="#0787f7" stroke-width="4.2" stroke-linejoin="round" stroke-linecap="round" stroke-linejoin="miter" stroke-miterlimit="3"/>
<polyline points="746.50,462.30 760.60,460.60 773.60,460.90 786.00,460.10 797.70,457.80 808.90,455.40 821.80,448.90 833.00,448.00 844.20,445.40 856.20,432.50 868.30,432.50 882.00,421.30 892.10,413.60 904.10,405.80 916.20,394.60 928.50,387.60 941.00,365.80 952.40,352.50 964.70,324.10 971.30,300.00 1003.30,180.00 1008.50,159.00 1018.80,127.10 1024.40,109.90 1036.40,110.00 1048.10,130.20 1052.60,144.80 1060.40,173.90 1067.20,207.50 1070.50,228.70 1079.80,266.40 1088.20,300.00 1100.00,330.00 1112.00,358.90 1127.40,386.70 1136.20,400.70 1148.20,411.00 1172.30,433.40 1184.40,436.80 1196.40,442.00 1208.50,447.20 1220.50,448.90 1240.00,449.70" fill="none" stroke="#02c35c" stroke-width="4.2" stroke-linejoin="round" stroke-linecap="round" stroke-linejoin="miter" stroke-miterlimit="3"/>
<polyline points="746.50,467.80 760.60,472.10 773.60,469.50 786.00,467.80 797.70,463.50 808.90,464.40 821.80,459.20 833.00,456.60 844.20,452.30 856.20,450.60 868.30,443.70 882.00,436.80 892.10,428.20 904.10,423.10 916.20,415.30 928.20,404.10 940.50,393.50 951.40,375.20 964.70,357.20 979.80,327.90 988.80,300.00 1007.20,238.80 1019.80,200.70 1037.60,155.50 1049.20,152.30 1061.80,173.50 1068.30,198.50 1076.10,228.70 1080.00,242.30 1089.40,283.30 1093.40,308.60 1097.80,320.00 1105.00,340.00 1112.50,359.00 1120.50,374.50 1128.00,389.00 1134.40,405.80 1146.50,414.40 1160.30,424.80 1172.30,435.10 1184.40,443.70 1196.40,445.40 1208.50,448.90 1220.50,454.00 1232.60,460.10 1240.00,460.90" fill="none" stroke="#de3b02" stroke-width="4.2" stroke-linejoin="round" stroke-linecap="round" stroke-linejoin="miter" stroke-miterlimit="3"/>
<polyline points="746.50,467.00 760.60,469.50 771.80,467.80 783.90,474.70 797.70,467.00 808.90,465.80 821.80,459.60 833.00,454.00 844.20,453.20 856.20,454.00 868.30,445.40 882.00,441.10 892.10,435.10 904.10,429.90 916.20,424.80 928.20,414.40 940.30,405.80 951.00,394.50 964.70,374.00 978.00,357.20 991.20,327.90 1002.00,295.00 1020.50,239.00 1037.20,196.40 1049.20,182.00 1061.60,190.50 1067.20,209.70 1071.50,226.00 1079.80,254.30 1088.20,285.70 1092.50,308.60 1096.50,320.10 1102.70,340.30 1110.40,358.90 1118.20,374.30 1125.90,389.10 1134.40,410.10 1146.50,423.10 1160.30,429.90 1172.30,435.10 1184.40,445.40 1196.40,444.60 1208.50,448.90 1220.50,452.30 1232.60,457.50 1240.00,457.50" fill="none" stroke="#ed0011" stroke-width="4.2" stroke-linejoin="round" stroke-linecap="round" stroke-linejoin="miter" stroke-miterlimit="3"/>
<polyline points="746.50,475.60 773.60,472.50 797.70,469.00 821.80,466.00 844.20,462.70 856.20,460.10 868.30,455.80 882.00,450.60 892.10,443.70 904.10,438.50 916.20,428.20 928.20,423.10 942.00,417.00 954.00,403.20 965.50,396.30 978.00,382.80 987.40,362.00 1002.60,322.20 1008.60,309.10 1017.70,290.00 1038.00,244.80 1050.40,233.90 1062.80,240.90 1076.10,276.00 1081.00,293.00 1084.00,308.00 1088.70,331.00 1098.00,354.20 1107.30,374.30 1112.00,389.10 1122.40,405.80 1134.40,424.80 1148.20,433.40 1160.30,442.00 1172.30,447.20 1196.40,454.00 1220.50,460.90 1240.00,464.40" fill="none" stroke="#d502ed" stroke-width="4.2" stroke-linejoin="round" stroke-linecap="round" stroke-linejoin="miter" stroke-miterlimit="3"/>
<polyline points="746.50,476.80 773.60,473.00 797.70,470.40 821.80,467.80 844.20,465.20 856.20,461.80 868.30,458.40 882.00,454.00 892.10,449.70 904.10,442.00 916.20,433.40 928.20,427.40 940.30,423.10 954.00,417.90 966.10,411.90 976.00,396.00 983.60,380.90 998.80,348.70 1013.90,314.60 1027.20,290.50 1038.80,275.80 1048.90,276.50 1055.10,283.50 1062.80,295.90 1067.40,309.10 1073.20,323.20 1081.00,343.40 1088.70,362.00 1093.70,375.80 1100.00,390.30 1110.30,409.30 1122.40,426.50 1134.40,435.10 1148.20,443.70 1160.30,448.90 1172.30,454.00 1196.40,460.90 1220.50,465.20 1240.00,468.70" fill="none" stroke="#7400c8" stroke-width="4.2" stroke-linejoin="round" stroke-linecap="round" stroke-linejoin="miter" stroke-miterlimit="3"/>
<polyline points="746.50,455.80 761.50,458.90 773.60,449.70 786.00,458.40 797.70,445.10 808.90,444.60 821.80,446.30 833.00,440.30 844.20,436.80 856.20,427.90 868.30,421.30 882.00,411.00 894.50,400.00 907.00,387.00 920.20,375.20 934.40,352.50 942.90,332.60 951.40,312.70 957.10,290.00 984.70,180.00 992.20,159.00 1002.50,111.60 1015.10,91.00 1027.50,104.80 1030.20,115.70 1034.30,128.80 1038.10,144.80 1042.10,159.00 1048.10,189.50 1054.50,218.20 1057.10,228.70 1065.90,263.40 1078.00,304.00 1085.60,323.20 1094.90,343.40 1104.20,362.00 1115.10,380.50 1120.00,385.00 1134.40,405.80 1146.50,410.10 1160.30,421.30 1172.30,430.80 1184.40,429.10 1196.40,439.40 1208.50,444.60 1220.50,445.40 1232.60,446.30 1240.30,450.60" fill="none" stroke="#04e5fe" stroke-width="4.2" stroke-linejoin="round" stroke-linecap="round" stroke-linejoin="miter" stroke-miterlimit="3"/>
</g>
<g clip-path="url(#clipc)">
<polyline points="1392.00,469.40 1400.98,467.57 1409.97,466.43 1418.95,466.42 1427.93,462.78 1436.92,461.35 1445.90,459.70 1457.00,461.00 1470.10,458.30 1482.00,459.00 1495.00,457.50 1503.60,455.80 1512.20,450.60 1520.00,443.70 1525.10,441.10 1533.70,441.10 1545.80,425.60 1551.00,412.70 1553.50,407.60 1559.60,400.70 1563.90,380.00 1570.10,353.90 1576.90,313.60 1580.10,295.00 1583.10,280.00 1601.30,178.80 1606.50,152.90 1612.70,130.20 1619.90,109.60 1627.10,88.90 1633.90,83.80 1638.50,97.20 1642.60,119.90 1646.70,142.60 1650.90,178.80 1653.90,204.80 1659.50,249.50 1663.00,280.00 1668.60,310.20 1674.00,345.00 1677.70,361.70 1686.10,376.10 1692.20,384.60 1698.20,405.10 1710.20,419.50 1721.10,428.00 1727.10,437.60 1734.30,438.80 1746.40,442.40 1758.00,446.00 1767.33,447.18 1776.67,446.21 1786.00,448.45 1795.33,449.77 1804.67,451.29 1814.00,449.01 1823.33,450.73 1832.67,450.60 1842.00,454.56 1851.33,454.85 1860.67,452.78 1870.00,457.72 1879.33,458.44 1888.67,457.88 1898.00,458.00" fill="none" stroke="#0787f7" stroke-width="3.9" stroke-linejoin="round" stroke-linecap="round" stroke-linejoin="miter" stroke-miterlimit="3"/>
<polyline points="1392.00,471.00 1401.36,470.44 1410.73,467.35 1420.09,465.65 1429.45,466.83 1438.82,463.70 1448.18,463.20 1457.55,462.36 1466.91,460.35 1476.27,461.19 1485.64,460.01 1495.00,459.20 1508.80,459.20 1517.40,459.20 1526.00,455.80 1534.60,457.50 1540.60,454.00 1544.90,442.00 1551.00,444.60 1556.10,431.70 1563.90,419.60 1569.90,410.10 1575.10,393.80 1579.40,380.00 1583.60,369.50 1591.40,324.80 1598.10,280.00 1622.60,160.00 1626.10,136.40 1633.30,117.80 1640.50,106.50 1645.70,105.80 1649.80,126.10 1655.00,152.90 1658.10,178.80 1664.00,193.60 1670.70,249.50 1673.00,278.00 1679.00,312.00 1685.00,348.00 1688.60,359.30 1700.60,383.40 1707.80,402.70 1715.10,409.90 1722.30,414.70 1734.30,434.00 1746.40,443.60 1758.00,447.00 1767.33,450.71 1776.67,449.98 1786.00,451.22 1795.33,451.30 1804.67,452.71 1814.00,452.51 1823.33,452.42 1832.67,456.29 1842.00,456.98 1851.33,457.00 1860.67,457.11 1870.00,456.09 1879.33,456.41 1888.67,457.37 1898.00,458.50" fill="none" stroke="#04e5fe" stroke-width="3.9" stroke-linejoin="round" stroke-linecap="round" stroke-linejoin="miter" stroke-miterlimit="3"/>
<polyline points="1392.00,470.00 1401.36,467.36 1410.73,469.68 1420.09,467.33 1429.45,468.54 1438.82,465.77 1448.18,467.54 1457.55,466.31 1466.91,461.84 1476.27,462.01 1485.64,464.35 1495.00,461.80 1512.20,460.90 1526.00,460.10 1539.80,456.60 1553.50,455.80 1559.60,448.90 1570.80,440.30 1578.50,429.90 1583.70,411.00 1588.90,397.20 1593.20,380.00 1597.00,358.40 1606.00,313.60 1612.00,285.00 1628.20,200.30 1634.30,178.80 1639.50,157.10 1646.70,144.70 1653.40,139.50 1659.10,152.90 1662.20,178.80 1666.20,186.90 1672.90,227.10 1679.60,271.90 1680.70,284.40 1690.10,349.00 1696.00,372.00 1705.00,392.00 1720.00,413.00 1740.00,430.00 1760.00,441.00 1780.00,446.00 1789.83,447.83 1799.67,451.03 1809.50,449.42 1819.33,448.95 1829.17,452.36 1839.00,453.98 1848.83,452.70 1858.67,452.85 1868.50,454.89 1878.33,458.63 1888.17,458.68 1898.00,458.00" fill="none" stroke="#02c35c" stroke-width="3.9" stroke-linejoin="round" stroke-linecap="round" stroke-linejoin="miter" stroke-miterlimit="3"/>
<polyline points="1392.00,472.00 1401.33,469.99 1410.67,470.22 1420.00,469.24 1429.33,468.73 1438.67,471.64 1448.00,468.58 1457.33,469.93 1466.67,469.10 1476.00,467.64 1485.33,469.69 1494.67,466.71 1504.00,468.63 1513.33,465.98 1522.67,466.98 1532.00,465.74 1541.33,465.65 1550.67,468.41 1560.00,466.00 1572.00,460.00 1582.80,442.00 1588.90,428.20 1594.90,416.20 1601.80,393.80 1605.20,380.00 1607.10,369.50 1617.20,324.80 1626.10,280.00 1632.70,238.30 1641.60,211.50 1651.70,181.30 1658.40,174.50 1665.10,184.60 1668.50,200.30 1675.20,233.80 1681.90,271.90 1686.00,295.00 1691.80,327.50 1694.40,349.00 1700.00,375.00 1710.00,398.00 1725.00,418.00 1745.00,435.00 1765.00,442.00 1785.00,446.00 1794.42,448.67 1803.83,447.80 1813.25,451.69 1822.67,450.06 1832.08,452.20 1841.50,455.56 1850.92,455.96 1860.33,454.91 1869.75,460.15 1879.17,458.07 1888.58,459.60 1898.00,462.00" fill="none" stroke="#de3b02" stroke-width="3.9" stroke-linejoin="round" stroke-linecap="round" stroke-linejoin="miter" stroke-miterlimit="3"/>
<polyline points="1392.00,470.00 1401.33,470.76 1410.67,468.36 1420.00,467.77 1429.33,466.35 1438.67,465.97 1448.00,467.70 1457.33,465.76 1466.67,466.89 1476.00,465.44 1485.33,465.35 1494.67,467.13 1504.00,464.60 1513.33,464.55 1522.67,465.39 1532.00,461.94 1541.33,461.37 1550.67,464.24 1563.90,459.20 1572.50,455.80 1581.10,452.30 1591.40,436.80 1598.30,424.80 1605.20,409.30 1613.00,380.00 1616.00,369.50 1627.20,324.80 1637.30,280.00 1643.80,240.60 1648.30,227.10 1659.50,203.60 1665.10,198.50 1671.80,207.00 1677.40,227.10 1684.10,254.00 1685.80,275.80 1687.50,288.70 1693.60,318.80 1697.90,349.00 1703.00,372.00 1712.00,395.00 1727.00,415.00 1745.00,431.00 1770.00,441.10 1779.30,446.50 1789.19,449.31 1799.08,448.23 1808.97,449.39 1818.87,453.22 1828.76,455.52 1838.65,453.66 1848.54,458.40 1858.43,459.51 1868.33,459.71 1878.22,460.32 1888.11,460.34 1898.00,463.50" fill="none" stroke="#ed0011" stroke-width="3.9" stroke-linejoin="round" stroke-linecap="round" stroke-linejoin="miter" stroke-miterlimit="3"/>
<polyline points="1392.00,469.00 1415.20,467.20 1422.70,469.00 1435.70,466.70 1449.60,465.80 1464.50,463.00 1472.90,464.40 1482.10,460.70 1490.50,463.00 1499.80,460.70 1507.10,460.10 1517.40,460.90 1527.70,462.70 1538.10,461.80 1548.40,456.60 1562.20,455.80 1570.80,450.60 1579.40,447.20 1588.00,442.00 1596.60,431.70 1603.50,428.20 1612.10,407.60 1619.00,380.00 1621.60,369.50 1635.10,324.80 1642.70,288.70 1651.70,254.00 1659.50,233.80 1666.20,221.50 1671.80,221.50 1679.60,238.30 1684.10,252.00 1689.30,275.80 1690.80,288.70 1696.10,318.80 1700.60,340.00 1707.80,364.10 1717.50,388.20 1727.10,405.10 1736.70,414.70 1746.40,426.70 1758.40,434.00 1770.50,443.60 1780.10,442.40 1791.70,440.30 1804.10,449.60 1816.50,450.40 1828.90,451.10 1838.20,455.00 1853.70,458.10 1866.10,458.10 1878.50,461.20 1898.60,460.40" fill="none" stroke="#d502ed" stroke-width="3.9" stroke-linejoin="round" stroke-linecap="round" stroke-linejoin="miter" stroke-miterlimit="3"/>
<polyline points="1392.00,469.00 1401.30,468.60 1406.90,473.70 1419.00,476.00 1425.50,470.90 1437.50,470.00 1445.00,473.70 1455.20,468.10 1463.60,472.30 1481.20,468.10 1488.70,472.80 1499.80,468.10 1515.70,468.70 1527.70,469.50 1544.90,468.70 1548.40,462.70 1558.70,459.20 1572.50,455.80 1577.70,443.70 1590.60,440.30 1596.60,430.80 1603.50,429.90 1615.50,405.80 1623.90,374.00 1634.00,342.70 1644.00,309.10 1654.10,280.00 1659.50,265.20 1666.20,256.20 1671.80,257.30 1676.30,265.20 1682.40,293.00 1689.30,318.80 1695.00,345.00 1699.40,364.10 1705.40,385.80 1715.10,402.70 1722.30,411.10 1731.90,421.90 1740.40,432.80 1748.80,435.20 1754.80,438.80 1760.80,449.60 1772.90,446.00 1779.30,455.00 1797.90,456.60 1804.10,453.50 1816.50,452.70 1822.70,462.80 1828.90,458.10 1841.30,462.80 1853.70,458.10 1869.20,465.10 1884.70,461.70 1892.40,466.60 1898.60,465.90" fill="none" stroke="#7400c8" stroke-width="3.9" stroke-linejoin="round" stroke-linecap="round" stroke-linejoin="miter" stroke-miterlimit="3"/>
<polyline points="1392.00,467.20 1401.30,465.10 1408.70,467.60 1415.20,463.50 1420.80,464.40 1427.30,461.10 1432.90,460.70 1438.50,462.50 1444.00,457.00 1450.50,452.30 1457.10,446.70 1464.50,448.10 1473.80,445.80 1481.20,438.80 1488.70,434.20 1494.20,432.80 1498.90,430.50 1507.10,421.30 1513.90,414.40 1520.80,410.10 1528.60,395.50 1537.20,380.00 1541.80,366.10 1550.00,349.40 1560.10,302.40 1565.70,280.00 1570.00,260.70 1585.80,178.80 1593.00,132.30 1599.20,105.40 1605.00,84.80 1611.20,73.40 1617.80,76.90 1622.00,101.30 1628.20,142.60 1633.50,180.00 1638.20,227.10 1643.80,260.70 1645.10,280.00 1650.70,302.40 1654.10,329.20 1659.50,347.00 1667.00,369.00 1678.00,392.50 1689.80,407.50 1703.00,421.90 1715.10,432.80 1722.30,436.40 1729.50,441.20 1736.70,443.60 1748.80,450.80 1763.30,453.30 1770.00,457.30 1779.30,460.40 1793.20,462.80 1801.00,465.10 1813.40,466.60 1822.70,472.00 1832.00,472.00 1838.20,471.30 1845.90,476.70 1856.80,476.70 1867.60,475.10 1875.40,477.50 1883.10,477.20" fill="none" stroke="#0000ff" stroke-width="3.9" stroke-linejoin="round" stroke-linecap="round" stroke-linejoin="miter" stroke-miterlimit="3"/>
</g>
<circle cx="1897.4" cy="476.2" r="1.8" fill="#7400c8"/>
<path d="M994,64.9 C1040,63.5 1078,80 1090,105" fill="none" stroke="#af0016" stroke-width="2.3"/>
<path d="M1092.7,116.8 L1079.2,102.6 L1090.4,105.6 L1098.2,97.5 Z" fill="#af0016"/>
<path d="M1609,64.9 C1662,68 1690,112 1689.2,165" fill="none" stroke="#af0016" stroke-width="2.3"/>
<path d="M1689.1,177.7 L1679.5,160.2 L1689.1,165.8 L1698.9,159.8 Z" fill="#af0016"/>
<path d="M1088.2,236.1 C1104,236 1121,241 1116.5,256 C1110,276 1074,300 1044,328" fill="none" stroke="#af0016" stroke-width="2.3"/>
<path d="M1033.9,336.8 L1040.1,319.6 L1044.2,327.6 L1053.1,330.7 Z" fill="#af0016"/>
</svg>
</body></html>
